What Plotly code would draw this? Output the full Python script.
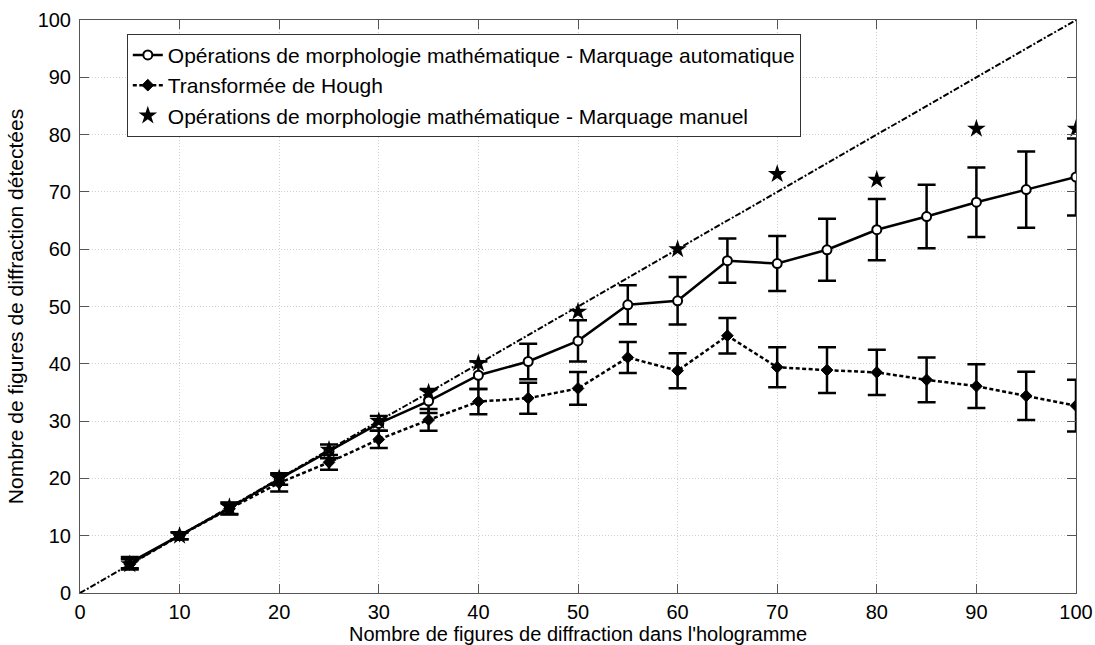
import plotly.graph_objects as go

# Number of diffraction patterns in the hologram
n_patterns = [5, 10, 15, 20, 25, 30, 35, 40, 45, 50, 55, 60, 65, 70, 75, 80, 85, 90, 95, 100]

# Mathematical morphology, automatic marking: mean and std
auto_mean = [5.3, 10.0, 14.8, 19.9, 24.7, 29.6, 33.5, 38.0, 40.4, 44.0,
             50.3, 51.0, 58.0, 57.5, 59.9, 63.4, 65.7, 68.2, 70.4, 72.6]
auto_std = [1.0, 0.6, 1.0, 1.0, 1.2, 1.3, 2.1, 2.4, 3.1, 3.6,
            3.4, 4.15, 3.85, 4.8, 5.4, 5.35, 5.55, 6.05, 6.65, 6.7]

# Hough transform: mean and std
hough_mean = [5.0, 10.0, 14.7, 19.2, 22.8, 26.8, 30.2, 33.4, 34.0, 35.7,
              41.1, 38.8, 44.9, 39.4, 38.9, 38.5, 37.2, 36.1, 34.4, 32.7]
hough_std = [0.9, 0.6, 1.0, 1.5, 1.3, 1.5, 1.9, 2.2, 2.7, 2.85,
             2.7, 3.05, 3.1, 3.5, 4.0, 3.95, 3.9, 3.8, 4.2, 4.5]

# Mathematical morphology, manual marking
manual_x = [5, 10, 15, 20, 25, 30, 35, 40, 50, 60, 70, 80, 90, 100]
manual_y = [5, 10, 15, 20, 25, 30, 35, 40.1, 49.1, 60.0, 73.1, 72.1, 81.0, 81.0]

# Ideal detection (y = x)
ideal_x = [0, 100]
ideal_y = [0, 100]

x_ticks = list(range(0, 101, 10))
y_ticks = list(range(0, 101, 10))

x_title = "Nombre de figures de diffraction dans l'hologramme"
y_title = "Nombre de figures de diffraction détectées"

FONT = "Liberation Sans, Arial, sans-serif"
FS_TICK = 20
FS_TEXT = 21

fig = go.Figure()

fig.add_trace(go.Scatter(
    x=n_patterns, y=auto_mean,
    name="Opérations de morphologie mathématique - Marquage automatique",
    mode="lines+markers",
    line=dict(color="black", width=2.5),
    marker=dict(symbol="circle", size=9, color="white",
                line=dict(color="black", width=2)),
    error_y=dict(type="data", array=auto_std, visible=True,
                 color="black", thickness=2.5, width=9),
))

fig.add_trace(go.Scatter(
    x=n_patterns, y=hough_mean,
    name="Transformée de Hough",
    mode="lines+markers",
    line=dict(color="black", width=2.5, dash="4px,2.5px"),
    marker=dict(symbol="diamond", size=9, color="black",
                line=dict(color="black", width=1)),
    error_y=dict(type="data", array=hough_std, visible=True,
                 color="black", thickness=2.5, width=9),
))

fig.add_trace(go.Scatter(
    x=manual_x, y=manual_y,
    name="Opérations de morphologie mathématique - Marquage manuel",
    mode="markers",
    marker=dict(symbol="star", size=14, color="black",
                line=dict(color="black", width=0)),
))

fig.add_trace(go.Scatter(
    x=ideal_x, y=ideal_y,
    mode="lines",
    showlegend=False,
    line=dict(color="black", width=2, dash="6px,2px,2px,2px"),
    hoverinfo="skip",
))

axis_common = dict(
    showline=True, linecolor="#555555", linewidth=1, mirror="ticks",
    ticks="inside", ticklen=9, tickwidth=1, tickcolor="#555555",
    showgrid=True, gridcolor="#cfcfcf", gridwidth=1, griddash="1px,2px",
    zeroline=False, automargin=False,
    tickfont=dict(family=FONT, size=FS_TICK, color="black"),
    title_font=dict(family=FONT, size=FS_TEXT, color="black"),
)

fig.update_xaxes(
    range=[0, 100], tickvals=x_ticks, ticktext=[str(v) for v in x_ticks],
    ticklabelstandoff=1,
    **axis_common,
)
fig.update_yaxes(
    range=[0, 100], tickvals=y_ticks, ticktext=[str(v) for v in y_ticks],
    title=dict(text=y_title, standoff=8),
    ticklabelstandoff=4,
    **axis_common,
)

# x-axis title placed just under the tick labels, near the bottom edge
fig.add_annotation(
    text=x_title, xref="paper", yref="paper", x=0.5, y=-0.072,
    xanchor="center", yanchor="middle", showarrow=False,
    font=dict(family=FONT, size=20, color="black"),
)

fig.update_layout(
    width=1095, height=645,
    margin=dict(l=80, r=19, t=20, b=52),
    paper_bgcolor="white", plot_bgcolor="white",
    font=dict(family=FONT, size=FS_TEXT, color="black"),
    legend=dict(
        x=0.047, y=0.976, xanchor="left", yanchor="top",
        bgcolor="white", bordercolor="#333333", borderwidth=1,
        font=dict(family=FONT, size=FS_TEXT, color="black"),
        tracegroupgap=0,
    ),
    showlegend=True,
)

fig.write_html("out.html")
